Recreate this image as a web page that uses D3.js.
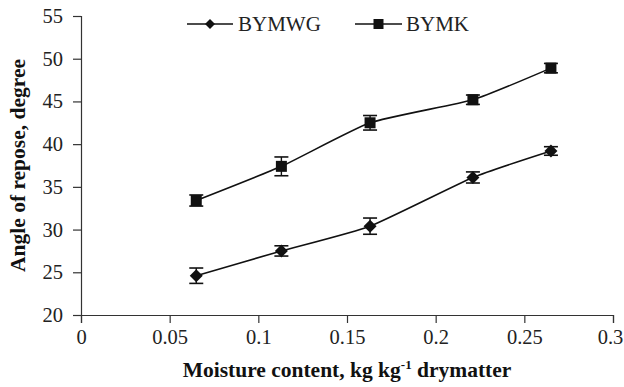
<!DOCTYPE html>
<html>
<head>
<meta charset="utf-8">
<script src="https://cdn.jsdelivr.net/npm/d3@7"></script>
<style>
  body { margin: 0; background: #fff; }
  svg { display: block; font-family: "Liberation Serif", "Times New Roman", serif; }
</style>
</head>
<body>
<div id="chart"></div>
<script>
// valores
const moisture = [0.065, 0.113, 0.163, 0.221, 0.265];
const bymwg = [24.6, 27.5, 30.4, 36.1, 39.2];
const bymwgErr = [0.9, 0.6, 0.95, 0.65, 0.5];
const bymk = [33.4, 37.4, 42.5, 45.2, 48.9];
const bymkErr = [0.65, 1.1, 0.85, 0.55, 0.55];
const xTicks = [0, 0.05, 0.1, 0.15, 0.2, 0.25, 0.3];
const yTicks = [20, 25, 30, 35, 40, 45, 50, 55];
const seriesNames = ["BYMWG", "BYMK"];

const W = 624, H = 387;
const margin = { top: 16, left: 81, right: 11, bottom: 72 };
const width = W - margin.left - margin.right;
const height = H - margin.top - margin.bottom;

const svg = d3.select("#chart")
  .append("svg")
  .attr("width", W)
  .attr("height", H);

const g = svg.append("g")
  .attr("transform", `translate(${margin.left},${margin.top})`);

const x = d3.scaleLinear().domain([0, 0.3]).range([0, width]);
const y = d3.scaleLinear().domain([20, 55]).range([height, 0]);

// eixos
const xAxis = g.append("g")
  .attr("transform", `translate(0,${height})`)
  .call(d3.axisBottom(x).tickValues(xTicks).tickSize(8).tickPadding(6)
    .tickFormat(d => d3.format("")(d)));
const yAxis = g.append("g")
  .call(d3.axisLeft(y).tickValues(yTicks).tickSize(8).tickPadding(10));

[xAxis, yAxis].forEach(a => {
  a.select(".domain").attr("stroke", "#333").attr("stroke-width", 1.2);
  a.selectAll(".tick line").attr("stroke", "#333").attr("stroke-width", 1.2);
  a.selectAll(".tick text")
    .attr("fill", "#222")
    .style("font-family", "Liberation Serif")
    .style("font-size", "20.5px");
});
// o último rótulo encosta na borda: puxa um pouco pra dentro
xAxis.selectAll(".tick text").filter(d => d === 0.3).attr("dx", -3);

// títulos dos eixos
const xt = svg.append("text")
  .attr("x", 347)
  .attr("y", 377)
  .attr("text-anchor", "middle")
  .style("font-size", "21.5px")
  .style("font-weight", "bold")
  .attr("fill", "#111");
xt.append("tspan").text("Moisture content, kg kg");
xt.append("tspan").attr("dy", -8).style("font-size", "13px").text("-1");
xt.append("tspan").attr("dy", 8).text(" drymatter");

svg.append("text")
  .attr("transform", `translate(25,${margin.top + height / 2}) rotate(-90)`)
  .attr("text-anchor", "middle")
  .style("font-size", "21.5px")
  .style("font-weight", "bold")
  .attr("fill", "#111")
  .text("Angle of repose, degree");

// formas dos marcadores
function diamond(s) {
  return `M0,${-s}L${s},0L0,${s}L${-s},0Z`;
}
function square(s) {
  return `M${-s},${-s}H${s}V${s}H${-s}Z`;
}

const line = d3.line()
  .x(d => x(d[0]))
  .y(d => y(d[1]))
  .curve(d3.curveCardinal.tension(0.5));

const series = [
  { name: seriesNames[0], vals: bymwg, err: bymwgErr, shape: diamond, size: 6.5 },
  { name: seriesNames[1], vals: bymk, err: bymkErr, shape: square, size: 5.5 }
];

series.forEach(s => {
  const pts = moisture.map((m, i) => [m, s.vals[i], s.err[i]]);

  g.append("path")
    .datum(pts)
    .attr("fill", "none")
    .attr("stroke", "#111")
    .attr("stroke-width", 1.6)
    .attr("d", line);

  const eb = g.append("g").selectAll("g").data(pts).join("g");
  eb.append("line")
    .attr("x1", d => x(d[0])).attr("x2", d => x(d[0]))
    .attr("y1", d => y(d[1] - d[2])).attr("y2", d => y(d[1] + d[2]))
    .attr("stroke", "#111").attr("stroke-width", 1.4);
  eb.append("line")
    .attr("x1", d => x(d[0]) - 7).attr("x2", d => x(d[0]) + 7)
    .attr("y1", d => y(d[1] - d[2])).attr("y2", d => y(d[1] - d[2]))
    .attr("stroke", "#111").attr("stroke-width", 1.6);
  eb.append("line")
    .attr("x1", d => x(d[0]) - 7).attr("x2", d => x(d[0]) + 7)
    .attr("y1", d => y(d[1] + d[2])).attr("y2", d => y(d[1] + d[2]))
    .attr("stroke", "#111").attr("stroke-width", 1.6);

  g.append("g").selectAll("path").data(pts).join("path")
    .attr("transform", d => `translate(${x(d[0])},${y(d[1])})`)
    .attr("d", s.shape(s.size))
    .attr("fill", "#111");
});

// legenda
const legend = [
  { name: seriesNames[0], shape: diamond, size: 5, x0: 187, x1: 233, text: 238 },
  { name: seriesNames[1], shape: square, size: 5, x0: 355, x1: 402, text: 406 }
];
const ly = 24;
legend.forEach(l => {
  svg.append("line")
    .attr("x1", l.x0).attr("x2", l.x1).attr("y1", ly).attr("y2", ly)
    .attr("stroke", "#111").attr("stroke-width", 1.6);
  svg.append("path")
    .attr("transform", `translate(${(l.x0 + l.x1) / 2},${ly})`)
    .attr("d", l.shape(l.size))
    .attr("fill", "#111");
  svg.append("text")
    .attr("x", l.text).attr("y", ly + 7)
    .style("font-size", "21px")
    .attr("fill", "#222")
    .text(l.name);
});
</script>
</body>
</html>
